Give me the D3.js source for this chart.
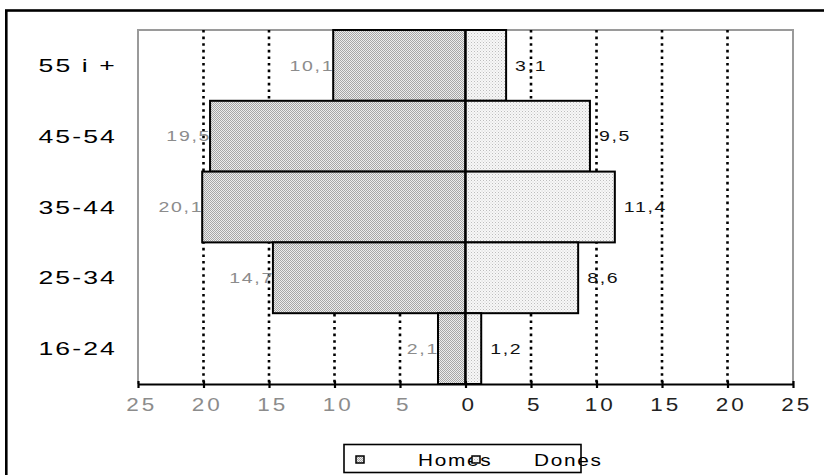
<!DOCTYPE html>
<html>
<head>
<meta charset="utf-8">
<script src="https://cdn.jsdelivr.net/npm/d3@7"></script>
<style>
  html, body { margin: 0; padding: 0; background: #fff; }
  svg { display: block; }
  text { font-family: "Liberation Sans", Arial, sans-serif; }
</style>
</head>
<body>
<svg id="chart" width="824" height="475"></svg>
<script>
// Age groups, top to bottom
const ageGroups = ["55 i +", "45-54", "35-44", "25-34", "16-24"];
// Percentages per age group
const homes = [10.1, 19.5, 20.1, 14.7, 2.1];
const dones = [3.1, 9.5, 11.4, 8.6, 1.2];
const valueLabelsHomes = ["10,1", "19,5", "20,1", "14,7", "2,1"];
const valueLabelsDones = ["3,1", "9,5", "11,4", "8,6", "1,2"];
const tickValues = [-25, -20, -15, -10, -5, 0, 5, 10, 15, 20, 25];
const gridValues = [-20, -15, -10, -5, 5, 10, 15, 20];
const seriesNames = ["Homes", "Dones"];

const svg = d3.select("#chart");

const plotLeft = 138, plotRight = 793, plotTop = 30, plotBottom = 384;
const x = d3.scaleLinear().domain([-25, 25]).range([plotLeft, plotRight]);
const y = d3.scaleBand().domain(ageGroups).range([plotTop, plotBottom]).padding(0);

// Fill textures
const defs = svg.append("defs");
const pm = defs.append("pattern").attr("id", "pHomes")
  .attr("width", 2).attr("height", 2).attr("patternUnits", "userSpaceOnUse");
pm.append("rect").attr("width", 2).attr("height", 2).attr("fill", "#ececec");
pm.append("rect").attr("x", 0).attr("y", 0).attr("width", 1).attr("height", 1).attr("fill", "#a6a6a6");
pm.append("rect").attr("x", 1).attr("y", 1).attr("width", 1).attr("height", 1).attr("fill", "#a6a6a6");

const pw = defs.append("pattern").attr("id", "pDones")
  .attr("width", 3).attr("height", 3).attr("patternUnits", "userSpaceOnUse");
pw.append("rect").attr("width", 3).attr("height", 3).attr("fill", "#f7f7f7");
pw.append("rect").attr("x", 0).attr("y", 0).attr("width", 1).attr("height", 1).attr("fill", "#bdbdbd");
pw.append("rect").attr("x", 1.5).attr("y", 1.5).attr("width", 1).attr("height", 1).attr("fill", "#cfcfcf");

// Outer frame
svg.append("rect")
  .attr("x", 6.3).attr("y", 10.5).attr("width", 900).attr("height", 600)
  .attr("fill", "none").attr("stroke", "#000").attr("stroke-width", 2.6);

// Plot frame (grey)
svg.append("path")
  .attr("d", `M${plotLeft},${plotBottom} V${plotTop} H${plotRight} V${plotBottom}`)
  .attr("fill", "none").attr("stroke", "#9a9a9a").attr("stroke-width", 2);

// Dotted gridlines
svg.append("g").selectAll("line").data(gridValues).join("line")
  .attr("x1", d => x(d)).attr("x2", d => x(d))
  .attr("y1", plotTop).attr("y2", plotBottom)
  .attr("stroke", "#000").attr("stroke-width", 2.6)
  .attr("stroke-dasharray", "2.6,4");

// Value labels (drawn beneath the bars)
svg.append("g").selectAll("text").data(ageGroups).join("text")
  .attr("transform", (d, i) => `translate(${x(-homes[i]) + 1},${y(d) + y.bandwidth() / 2}) scale(1.3,1)`)
  .attr("text-anchor", "end").attr("dominant-baseline", "central")
  .attr("font-size", 15).attr("letter-spacing", 1.3).attr("fill", "#8c8c8c")
  .text((d, i) => valueLabelsHomes[i]);

// Bars
svg.append("g").selectAll("rect").data(ageGroups).join("rect")
  .attr("x", (d, i) => x(-homes[i])).attr("width", (d, i) => x(0) - x(-homes[i]))
  .attr("y", d => y(d)).attr("height", y.bandwidth())
  .attr("fill", "url(#pHomes)").attr("stroke", "#000").attr("stroke-width", 2);

svg.append("g").selectAll("rect").data(ageGroups).join("rect")
  .attr("x", x(0)).attr("width", (d, i) => x(dones[i]) - x(0))
  .attr("y", d => y(d)).attr("height", y.bandwidth())
  .attr("fill", "url(#pDones)").attr("stroke", "#000").attr("stroke-width", 2);

svg.append("g").selectAll("text").data(ageGroups).join("text")
  .attr("transform", (d, i) => `translate(${x(dones[i]) + 9},${y(d) + y.bandwidth() / 2}) scale(1.3,1)`)
  .attr("text-anchor", "start").attr("dominant-baseline", "central")
  .attr("font-size", 15).attr("letter-spacing", 1.3).attr("fill", "#111")
  .text((d, i) => valueLabelsDones[i]);

// Zero line
svg.append("line")
  .attr("x1", x(0)).attr("x2", x(0)).attr("y1", plotTop).attr("y2", plotBottom)
  .attr("stroke", "#000").attr("stroke-width", 2);

// Bottom axis
const axis = d3.axisBottom(x).tickValues(tickValues)
  .tickFormat(d => String(Math.abs(d))).tickSizeOuter(0).tickSizeInner(4);
const gx = svg.append("g").attr("transform", `translate(0,${plotBottom})`).call(axis);
gx.select(".domain").attr("stroke", "#000").attr("stroke-width", 2.2);
gx.selectAll(".tick line").attr("y1", -3).attr("y2", 4).attr("stroke", "#000").attr("stroke-width", 2.2);
gx.selectAll(".tick text")
  .attr("y", 14).attr("x", 2.5).attr("dy", "0.71em")
  .attr("transform", "scale(1.25,1)")
  .attr("font-size", 18).attr("letter-spacing", 2.4)
  .attr("font-family", "'Liberation Sans', Arial, sans-serif")
  .attr("fill", d => d < 0 ? "#8c8c8c" : "#222");

// Category labels
svg.append("g").selectAll("text").data(ageGroups).join("text")
  .attr("transform", d => `translate(117,${y(d) + y.bandwidth() / 2}) scale(1.4,1)`)
  .attr("text-anchor", "end").attr("dominant-baseline", "central")
  .attr("font-size", 19).attr("letter-spacing", 1.5).attr("fill", "#000")
  .text(d => d);

// Legend
const lg = svg.append("g");
lg.append("rect").attr("x", 344).attr("y", 444.5).attr("width", 237).attr("height", 28)
  .attr("fill", "none").attr("stroke", "#000").attr("stroke-width", 1.6);
lg.append("text").attr("transform", "translate(418,460) scale(1.3,1)")
  .attr("dominant-baseline", "central").attr("font-size", 16).attr("letter-spacing", 1.3).attr("fill", "#000")
  .text(seriesNames[0]);
lg.append("text").attr("transform", "translate(534,460) scale(1.3,1)")
  .attr("dominant-baseline", "central").attr("font-size", 16).attr("letter-spacing", 1.3).attr("fill", "#000")
  .text(seriesNames[1]);
lg.append("rect").attr("x", 356).attr("y", 456).attr("width", 8).attr("height", 7)
  .attr("fill", "url(#pHomes)").attr("stroke", "#000").attr("stroke-width", 1.5);
lg.append("rect").attr("x", 472).attr("y", 456).attr("width", 8).attr("height", 7)
  .attr("fill", "url(#pDones)").attr("stroke", "#000").attr("stroke-width", 1.5);
</script>
</body>
</html>
